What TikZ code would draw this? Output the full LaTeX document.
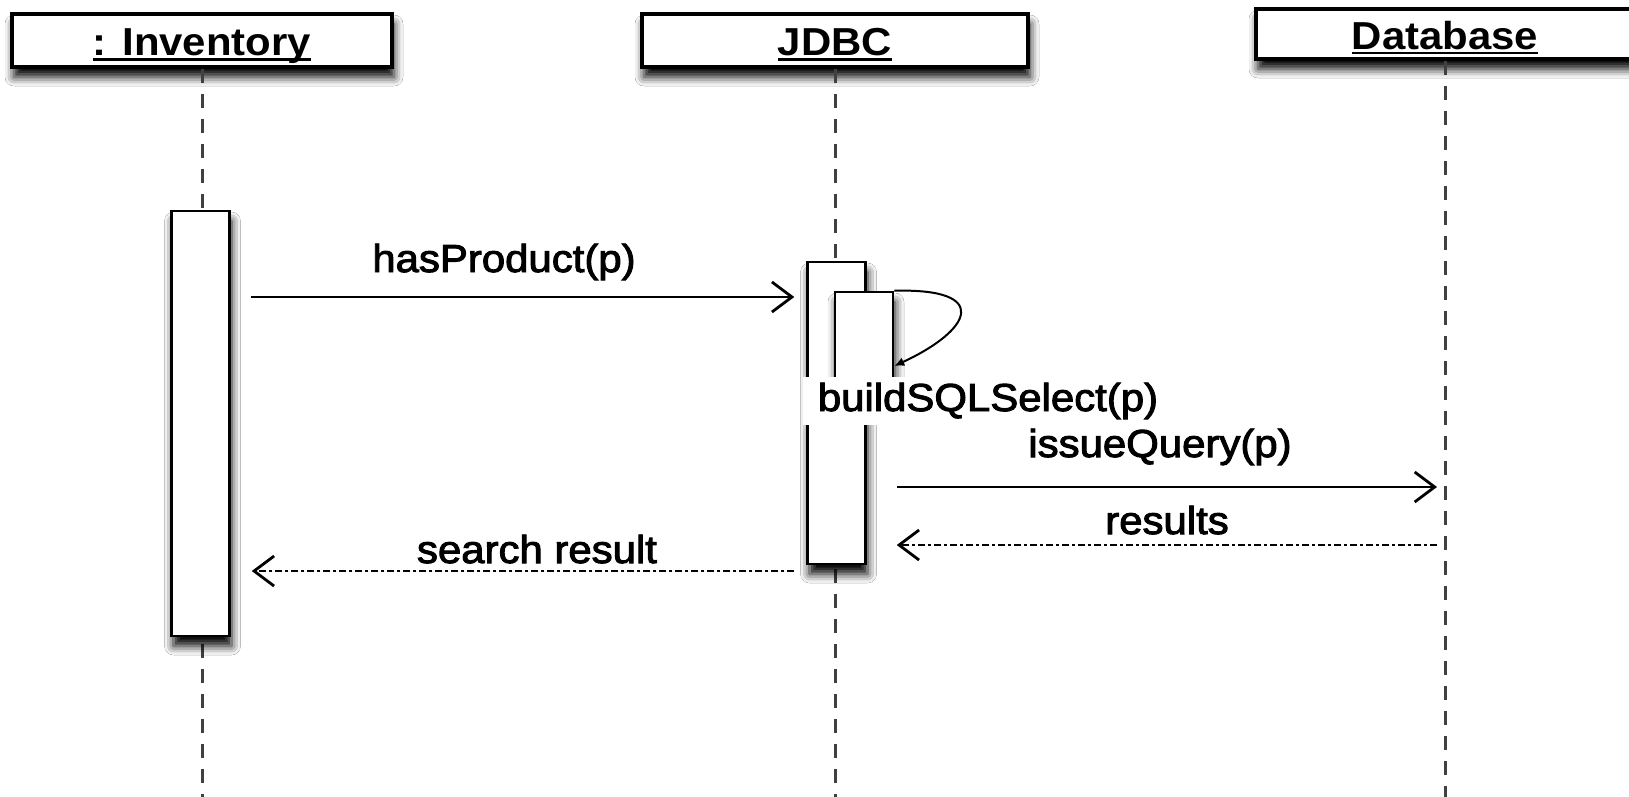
\documentclass[tikz,border=0pt]{standalone}
\usepackage{fontspec}
\setmainfont{Liberation Sans}[FakeStretch=1.075]
\newfontfamily\msgfont{Liberation Sans}[FakeStretch=1.075,FakeBold=2.5]
\usetikzlibrary{arrows.meta,calc,shadows.blur}

\newcommand{\ulname}[1]{\setbox0\hbox{#1}\rlap{\rule[-5.25pt]{\wd0}{2.5pt}}\box0}

\tikzset{
  softshadow/.style={blur shadow={shadow xshift=2pt,shadow yshift=-10pt,shadow blur radius=9pt,shadow opacity=100}},
  objbox/.style={draw,line width=3.5pt,fill=white,text height=30pt,text depth=0pt,font=\bfseries\fontsize{39}{46}\selectfont,softshadow},
  actbox/.style={draw,line width=2.5pt,fill=white,minimum width=58pt,inner sep=0pt,softshadow},
  lifeline/.style={draw=black!75,line width=3pt,dash pattern=on 14pt off 11pt},
  msg/.style={line width=2.8pt,-{Straight Barb[length=20pt,width=30pt,line width=2.8pt]}},
  retmsg/.style={msg,dash pattern=on 7pt off 3pt on 3pt off 3pt},
  selfmsg/.style={line width=2pt,-{Latex[length=10pt,width=9pt]}},
  lbl/.style={anchor=base,font=\msgfont\fontsize{39}{46}\selectfont},
}

\begin{document}
\begin{tikzpicture}[x=1pt,y=-1pt]
\useasboundingbox (0,0) rectangle (1629,796);
\fill[white] (0,0) rectangle (1629,796);

\foreach \name/\txt/\x/\y/\w/\h in {inv/{: Inventory}/202/40.5/380/53, jdbc/JDBC/835/40.5/386/53, db/Database/1445/34/378/50}
  \node[objbox,minimum width=\w pt,minimum height=\h pt] (\name) at (\x,\y) {\ulname{\txt}};

\coordinate (bottom) at (0,800);
\foreach \name in {inv,jdbc,db}
  \draw[lifeline] (\name.south) -- (\name.south |- bottom);

\node[actbox,minimum height=425pt] (invAct) at (200.5,423.5) {};
\node[actbox,minimum height=302pt] (jdbcAct) at (836.5,413) {};
\node[actbox,minimum height=108pt] (jdbcSub) at (864,346) {};

\coordinate (r0) at (0,366);
\coordinate (r1) at (0,297);
\coordinate (r2) at (0,487);
\coordinate (r3) at (0,545);
\coordinate (r4) at (0,571);

\draw[selfmsg] (jdbcSub.north east) .. controls (992,288) and (972,330) .. (jdbcSub.east |- r0);
\node[lbl,fill=white,inner xsep=15pt,inner ysep=6pt] (buildLbl) at (988,411) {buildSQLSelect(p)};

\draw[msg] ($(invAct.east |- r1)+(20,0)$) -- ($(jdbcAct.west |- r1)+(-12,0)$);
\node[lbl] (hasLbl) at (504,272) {hasProduct(p)};

\draw[msg] ($(jdbcAct.east |- r2)+(30,0)$) -- ($(db.south |- r2)+(-8,0)$);
\node[lbl] (issueLbl) at (1160,457) {issueQuery(p)};

\draw[retmsg] ($(db.south |- r3)+(-8,0)$) -- ($(jdbcAct.east |- r3)+(30,0)$);
\node[lbl] (resLbl) at (1167,534) {results};

\draw[retmsg] ($(jdbcAct.west |- r4)+(-12,0)$) -- ($(invAct.east |- r4)+(21,0)$);
\node[lbl] (searchLbl) at (537,563) {search result};
\end{tikzpicture}
\end{document}
